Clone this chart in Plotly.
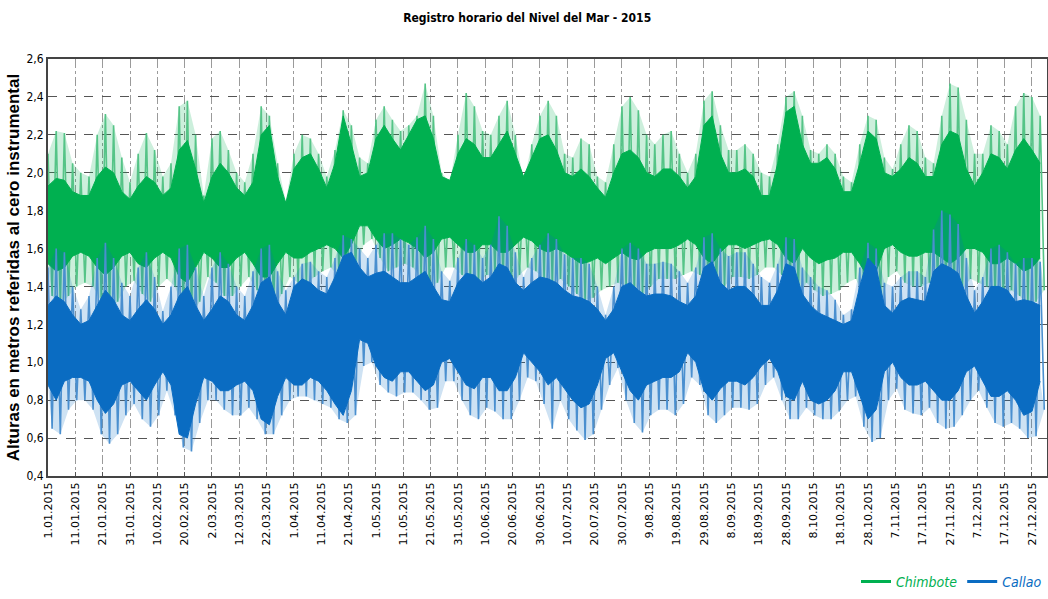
import pandas as pd
import plotly.graph_objects as go

TITLE = "Registro horario del Nivel del Mar - 2015"
Y_TITLE = "Alturas en metros referidas al cero instrumental"
START = "2015-01-01"
STEP_DAYS = 3  # one sample (high / low envelope) every 3 days

# ---- Chimbote (green) ----
CH_HI = [2.10, 2.22, 2.21, 2.05, 2.00, 1.98, 2.20, 2.31, 2.25, 2.08, 1.95, 2.10, 2.21, 2.12, 1.98, 2.05,
         2.35, 2.38, 2.20, 1.88, 2.18, 2.22, 2.12, 2.00, 1.95, 2.10, 2.35, 2.30, 2.05, 1.85, 2.10, 2.20,
         2.18, 2.10, 1.98, 2.12, 2.33, 2.25, 2.08, 2.05, 2.28, 2.35, 2.28, 2.22, 2.25, 2.30, 2.47, 2.30,
         2.00, 1.95, 2.20, 2.42, 2.35, 2.22, 2.20, 2.30, 2.38, 2.20, 1.95, 2.15, 2.30, 2.38, 2.30, 2.10,
         2.08, 2.18, 2.15, 1.98, 1.95, 2.15, 2.35, 2.40, 2.33, 2.20, 2.15, 2.20, 2.22, 2.10, 2.00, 2.10,
         2.38, 2.43, 2.25, 2.12, 2.12, 2.15, 2.10, 2.00, 1.98, 2.15, 2.40, 2.43, 2.30, 2.12, 2.10, 2.15,
         2.10, 1.98, 1.95, 2.15, 2.30, 2.28, 2.08, 2.02, 2.15, 2.25, 2.22, 2.08, 2.05, 2.30, 2.47, 2.45,
         2.28, 2.10, 2.10, 2.25, 2.22, 2.15, 2.35, 2.42, 2.40, 2.30]
CH_CORE_TOP = [1.93, 1.97, 1.96, 1.90, 1.88, 1.88, 1.98, 2.03, 2.00, 1.90, 1.86, 1.93, 1.98, 1.95, 1.88, 1.92,
               2.12, 2.17, 2.02, 1.84, 1.98, 2.05, 2.00, 1.92, 1.88, 1.95, 2.20, 2.25, 1.98, 1.84, 2.02, 2.08,
               2.10, 2.02, 1.92, 2.05, 2.30, 2.15, 1.98, 2.00, 2.18, 2.25, 2.18, 2.12, 2.20, 2.28, 2.30, 2.18,
               1.98, 1.96, 2.10, 2.18, 2.15, 2.08, 2.08, 2.15, 2.22, 2.10, 1.98, 2.08, 2.18, 2.20, 2.12, 2.00,
               1.98, 2.02, 1.98, 1.92, 1.87, 2.00, 2.10, 2.12, 2.08, 2.00, 1.98, 2.02, 2.02, 1.98, 1.92, 1.98,
               2.25, 2.30, 2.10, 2.00, 2.00, 2.02, 1.98, 1.88, 1.88, 2.05, 2.32, 2.35, 2.15, 2.05, 2.05, 2.08,
               2.02, 1.90, 1.90, 2.05, 2.22, 2.18, 2.00, 1.98, 2.02, 2.08, 2.05, 1.98, 1.98, 2.15, 2.22, 2.20,
               2.02, 1.93, 2.00, 2.10, 2.08, 2.02, 2.12, 2.18, 2.12, 2.05]
CH_CORE_BOT = [1.52, 1.48, 1.50, 1.56, 1.58, 1.56, 1.50, 1.46, 1.50, 1.56, 1.58, 1.52, 1.50, 1.55, 1.58, 1.55,
               1.45, 1.42, 1.50, 1.58, 1.55, 1.50, 1.50, 1.55, 1.58, 1.52, 1.45, 1.45, 1.52, 1.58, 1.55, 1.55,
               1.58, 1.60, 1.62, 1.60, 1.55, 1.62, 1.72, 1.72, 1.65, 1.60, 1.62, 1.65, 1.63, 1.60, 1.55, 1.58,
               1.65, 1.66, 1.62, 1.58, 1.58, 1.62, 1.62, 1.58, 1.58, 1.62, 1.66, 1.64, 1.60, 1.58, 1.60, 1.58,
               1.55, 1.52, 1.53, 1.55, 1.52, 1.55, 1.58, 1.55, 1.54, 1.58, 1.60, 1.60, 1.60, 1.62, 1.65, 1.62,
               1.55, 1.52, 1.58, 1.62, 1.62, 1.60, 1.62, 1.64, 1.65, 1.62, 1.55, 1.52, 1.60, 1.55, 1.52, 1.54,
               1.55, 1.58, 1.58, 1.52, 1.45, 1.48, 1.60, 1.62, 1.58, 1.56, 1.56, 1.58, 1.58, 1.55, 1.52, 1.55,
               1.60, 1.60, 1.58, 1.52, 1.52, 1.55, 1.52, 1.48, 1.50, 1.55]
CH_LO = [1.35, 1.30, 1.35, 1.40, 1.42, 1.40, 1.32, 1.28, 1.32, 1.40, 1.43, 1.36, 1.32, 1.40, 1.44, 1.40,
         1.28, 1.25, 1.32, 1.45, 1.42, 1.35, 1.35, 1.40, 1.45, 1.38, 1.28, 1.28, 1.36, 1.45, 1.42, 1.42,
         1.45, 1.48, 1.50, 1.45, 1.40, 1.48, 1.62, 1.65, 1.55, 1.48, 1.50, 1.52, 1.50, 1.45, 1.40, 1.42,
         1.50, 1.50, 1.46, 1.42, 1.42, 1.46, 1.46, 1.42, 1.40, 1.46, 1.50, 1.48, 1.44, 1.40, 1.44, 1.40,
         1.36, 1.33, 1.34, 1.38, 1.40, 1.42, 1.40, 1.36, 1.35, 1.40, 1.44, 1.44, 1.44, 1.46, 1.48, 1.46,
         1.36, 1.33, 1.40, 1.45, 1.45, 1.44, 1.46, 1.50, 1.50, 1.46, 1.36, 1.34, 1.42, 1.38, 1.35, 1.36,
         1.38, 1.42, 1.44, 1.35, 1.28, 1.30, 1.45, 1.48, 1.42, 1.40, 1.40, 1.42, 1.42, 1.38, 1.35, 1.38,
         1.44, 1.42, 1.40, 1.34, 1.34, 1.38, 1.35, 1.30, 1.32, 1.38]

# ---- Callao (blue) ----
CA_HI = [1.50, 1.60, 1.58, 1.40, 1.28, 1.35, 1.55, 1.63, 1.55, 1.42, 1.35, 1.50, 1.58, 1.45, 1.27, 1.40,
         1.60, 1.62, 1.50, 1.35, 1.50, 1.58, 1.52, 1.40, 1.35, 1.48, 1.60, 1.62, 1.48, 1.38, 1.45, 1.52,
         1.53, 1.48, 1.45, 1.55, 1.67, 1.65, 1.60, 1.55, 1.62, 1.68, 1.68, 1.65, 1.62, 1.66, 1.72, 1.65,
         1.48, 1.43, 1.55, 1.65, 1.62, 1.55, 1.62, 1.77, 1.72, 1.58, 1.45, 1.55, 1.62, 1.68, 1.65, 1.57,
         1.55, 1.55, 1.52, 1.40, 1.25, 1.40, 1.60, 1.63, 1.60, 1.52, 1.52, 1.53, 1.52, 1.48, 1.42, 1.50,
         1.66, 1.68, 1.60, 1.56, 1.58, 1.58, 1.52, 1.45, 1.42, 1.52, 1.66, 1.65, 1.50, 1.45, 1.40, 1.38,
         1.33, 1.25, 1.28, 1.50, 1.63, 1.60, 1.42, 1.40, 1.45, 1.48, 1.48, 1.45, 1.70, 1.80, 1.78, 1.73,
         1.55, 1.38, 1.45, 1.60, 1.62, 1.58, 1.52, 1.55, 1.55, 1.53]
CA_CORE_TOP = [1.30, 1.35, 1.32, 1.25, 1.20, 1.22, 1.30, 1.38, 1.33, 1.25, 1.22, 1.28, 1.33, 1.28, 1.20, 1.25,
               1.35, 1.40, 1.30, 1.22, 1.28, 1.35, 1.32, 1.25, 1.22, 1.30, 1.42, 1.45, 1.32, 1.25, 1.40, 1.44,
               1.42, 1.38, 1.36, 1.45, 1.56, 1.58, 1.50, 1.45, 1.47, 1.48, 1.45, 1.42, 1.42, 1.45, 1.48, 1.40,
               1.33, 1.32, 1.42, 1.47, 1.46, 1.42, 1.45, 1.52, 1.50, 1.42, 1.38, 1.42, 1.45, 1.44, 1.42, 1.38,
               1.35, 1.34, 1.32, 1.28, 1.22, 1.28, 1.40, 1.42, 1.38, 1.35, 1.36, 1.36, 1.35, 1.32, 1.30, 1.35,
               1.50, 1.53, 1.42, 1.38, 1.40, 1.40, 1.36, 1.30, 1.30, 1.38, 1.52, 1.50, 1.36, 1.30, 1.26, 1.24,
               1.22, 1.20, 1.22, 1.40, 1.55, 1.50, 1.30, 1.26, 1.32, 1.34, 1.33, 1.32, 1.48, 1.52, 1.50, 1.47,
               1.35, 1.26, 1.32, 1.40, 1.40, 1.38, 1.32, 1.33, 1.32, 1.30]
CA_CORE_BOT = [0.88, 0.80, 0.90, 0.92, 0.92, 0.90, 0.80, 0.73, 0.78, 0.88, 0.90, 0.85, 0.80, 0.88, 0.95, 0.88,
               0.62, 0.60, 0.78, 0.92, 0.90, 0.85, 0.85, 0.88, 0.90, 0.85, 0.70, 0.67, 0.82, 0.92, 0.88, 0.88,
               0.92, 0.90, 0.85, 0.78, 0.72, 0.85, 1.12, 1.10, 0.98, 0.92, 0.90, 0.95, 0.95, 0.90, 0.85, 0.88,
               1.00, 1.02, 0.95, 0.88, 0.86, 0.92, 0.92, 0.85, 0.85, 0.92, 1.05, 1.00, 0.95, 0.88, 0.92, 0.86,
               0.80, 0.76, 0.78, 0.88, 1.02, 1.05, 0.95, 0.85, 0.80, 0.88, 0.90, 0.92, 0.92, 0.95, 1.05, 1.00,
               0.85, 0.80, 0.86, 0.90, 0.90, 0.88, 0.92, 0.98, 1.02, 0.95, 0.82, 0.80, 0.90, 0.80, 0.78, 0.80,
               0.85, 0.95, 0.95, 0.82, 0.70, 0.75, 0.95, 1.00, 0.92, 0.88, 0.88, 0.90, 0.85, 0.80, 0.80, 0.85,
               0.95, 0.98, 0.90, 0.82, 0.82, 0.85, 0.80, 0.72, 0.74, 0.90]
CA_LO = [0.65, 0.62, 0.75, 0.80, 0.80, 0.75, 0.62, 0.57, 0.62, 0.72, 0.78, 0.70, 0.66, 0.72, 0.85, 0.72,
         0.55, 0.53, 0.68, 0.80, 0.80, 0.75, 0.72, 0.72, 0.76, 0.70, 0.62, 0.62, 0.72, 0.80, 0.82, 0.82,
         0.80, 0.78, 0.76, 0.70, 0.68, 0.72, 0.98, 1.00, 0.88, 0.84, 0.82, 0.84, 0.84, 0.80, 0.75, 0.76,
         0.90, 0.90, 0.80, 0.72, 0.70, 0.76, 0.74, 0.70, 0.70, 0.80, 0.92, 0.90, 0.78, 0.65, 0.80, 0.70,
         0.64, 0.59, 0.62, 0.75, 0.88, 0.97, 0.80, 0.68, 0.63, 0.72, 0.75, 0.75, 0.72, 0.78, 0.92, 0.88,
         0.72, 0.68, 0.72, 0.76, 0.76, 0.75, 0.78, 0.88, 0.92, 0.80, 0.70, 0.70, 0.76, 0.72, 0.70, 0.70,
         0.74, 0.80, 0.82, 0.66, 0.58, 0.60, 0.80, 0.86, 0.75, 0.73, 0.72, 0.76, 0.68, 0.65, 0.66, 0.72,
         0.80, 0.85, 0.76, 0.68, 0.66, 0.68, 0.65, 0.60, 0.61, 0.75]

TICK_LABELS = ["1.01.2015", "11.01.2015", "21.01.2015", "31.01.2015", "10.02.2015", "20.02.2015",
               "2.03.2015", "12.03.2015", "22.03.2015", "1.04.2015", "11.04.2015", "21.04.2015",
               "1.05.2015", "11.05.2015", "21.05.2015", "31.05.2015", "10.06.2015", "20.06.2015",
               "30.06.2015", "10.07.2015", "20.07.2015", "30.07.2015", "9.08.2015", "19.08.2015",
               "29.08.2015", "8.09.2015", "18.09.2015", "28.09.2015", "8.10.2015", "18.10.2015",
               "28.10.2015", "7.11.2015", "17.11.2015", "27.11.2015", "7.12.2015", "17.12.2015",
               "27.12.2015"]

GREEN = "#00B050"
GREEN_SPIKE = "#55C487"
GREEN_BAND = "rgba(0,176,80,0.20)"
BLUE = "#0A6CC2"
BLUE_SPIKE = "#4A8FCF"
BLUE_BAND = "rgba(10,108,194,0.20)"
NARROW = "DejaVu Sans Condensed, Liberation Sans Narrow, Arial Narrow, sans-serif"

start = pd.Timestamp(START)
tick_vals = [pd.Timestamp(pd.to_datetime(t, format="%d.%m.%Y")) for t in TICK_LABELS]


def sample_dates(n, offset_days=0.0):
    return [start + pd.Timedelta(days=STEP_DAYS * i + offset_days) for i in range(n)]


def zigzag(hi, lo):
    xs, ys = [], []
    d_hi = sample_dates(len(hi))
    d_lo = sample_dates(len(lo), STEP_DAYS / 2)
    for a, b, c, d in zip(d_hi, hi, d_lo, lo):
        xs += [a, c]
        ys += [b, d]
    return xs, ys


fig = go.Figure()
NOLINE = dict(width=0, color="rgba(0,0,0,0)")


def add_series(hi, ctop, cbot, lo, col, spike_col, band_col):
    d_hi = sample_dates(len(hi))
    d_lo = sample_dates(len(lo), STEP_DAYS / 2)
    dates = sample_dates(len(ctop))
    # light bands where the individual tide spikes are packed
    fig.add_trace(go.Scatter(x=dates, y=ctop, mode="lines", line=NOLINE, showlegend=False, hoverinfo="skip"))
    fig.add_trace(go.Scatter(x=d_hi, y=hi, mode="lines", line=NOLINE, fill="tonexty", fillcolor=band_col,
                             showlegend=False, hoverinfo="skip"))
    fig.add_trace(go.Scatter(x=dates, y=cbot, mode="lines", line=NOLINE, showlegend=False, hoverinfo="skip"))
    fig.add_trace(go.Scatter(x=d_lo, y=lo, mode="lines", line=NOLINE, fill="tonexty", fillcolor=band_col,
                             showlegend=False, hoverinfo="skip"))
    # individual spikes
    zx, zy = zigzag(hi, lo)
    fig.add_trace(go.Scatter(x=zx, y=zy, mode="lines", line=dict(color=spike_col, width=1.6),
                             showlegend=False, hoverinfo="skip"))
    # dense core
    fig.add_trace(go.Scatter(x=dates, y=cbot, mode="lines", line=dict(color=col, width=1),
                             showlegend=False, hoverinfo="skip"))
    fig.add_trace(go.Scatter(x=dates, y=ctop, mode="lines", line=dict(color=col, width=1),
                             fill="tonexty", fillcolor=col, showlegend=False, hoverinfo="skip"))


add_series(CH_HI, CH_CORE_TOP, CH_CORE_BOT, CH_LO, GREEN, GREEN_SPIKE, GREEN_BAND)
add_series(CA_HI, CA_CORE_TOP, CA_CORE_BOT, CA_LO, BLUE, BLUE_SPIKE, BLUE_BAND)

# legend entries (no drawn marks)
fig.add_trace(go.Scatter(x=[None], y=[None], mode="lines", line=dict(color=GREEN, width=3),
                         name="<i><span style='color:%s'>Chimbote</span></i>" % GREEN))
fig.add_trace(go.Scatter(x=[None], y=[None], mode="lines", line=dict(color=BLUE, width=3),
                         name="<i><span style='color:%s'>Callao</span></i>" % BLUE))

fig.update_layout(
    width=1048, height=599,
    margin=dict(l=48, r=1, t=59, b=118),
    paper_bgcolor="white", plot_bgcolor="white",
    separators=",.",
    title=dict(text="<b>" + TITLE + "</b>", x=0.503, xanchor="center", y=0.97, yanchor="middle",
               font=dict(family=NARROW, size=12, color="black")),
    showlegend=True,
    legend=dict(orientation="h", x=1.0, xanchor="right", y=-0.254, yanchor="middle", traceorder="normal",
                font=dict(family=NARROW, size=14), itemwidth=30, bgcolor="rgba(0,0,0,0)"),
)
fig.update_xaxes(
    type="date", range=[start, start + pd.Timedelta(days=365.5)], automargin=False,
    tickvals=tick_vals, ticktext=TICK_LABELS, tickangle=-90,
    tickfont=dict(family="DejaVu Sans", size=11, color="black"),
    ticks="inside", ticklen=4, tickcolor="#555",
    showgrid=True, gridcolor="#9a9a9a", griddash="dashdot", gridwidth=1,
    showline=True, linecolor="#444", linewidth=2, mirror=True, zeroline=False,
)
fig.update_yaxes(
    range=[0.4, 2.6], dtick=0.2, tick0=0.4, tickformat=".1f", automargin=False,
    tickfont=dict(family=NARROW, size=12, color="black"),
    showgrid=True, gridcolor="#555", griddash="dash", gridwidth=1,
    showline=True, linecolor="#444", linewidth=2, mirror=True, zeroline=False,
    title=dict(text="<b>" + Y_TITLE + "</b>", font=dict(family="Liberation Sans, Arial, sans-serif", size=17,
               color="black"), standoff=2),
)

fig.write_html("out.html", config={"displayModeBar": False},
               post_script="document.body.style.margin='0';document.body.style.padding='0';")
